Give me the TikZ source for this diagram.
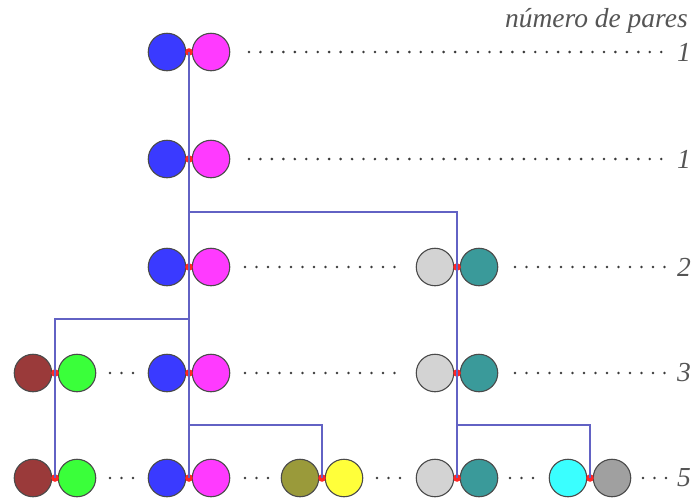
\documentclass[tikz,border=0pt]{standalone}
\usepackage{fontspec}
\setmainfont{Liberation Serif}
\definecolor{cblue}{HTML}{3A3AFF}
\definecolor{cmag}{HTML}{FF3AFF}
\definecolor{cbrown}{HTML}{9A3A3A}
\definecolor{cgreen}{HTML}{3AFF3A}
\definecolor{colive}{HTML}{9A9A3A}
\definecolor{cyel}{HTML}{FFFF3A}
\definecolor{clgrey}{HTML}{D3D3D3}
\definecolor{cteal}{HTML}{3A9A9A}
\definecolor{ccyan}{HTML}{3AFFFF}
\definecolor{cgrey}{HTML}{A0A0A0}
\definecolor{linec}{HTML}{6262C4}
\definecolor{edgec}{HTML}{4A4A4A}
\definecolor{dotc}{HTML}{3A3A3A}
\definecolor{textc}{HTML}{555555}
\tikzset{
  ball/.style={circle, draw=edgec, line width=1.1pt, minimum size=37.5pt, inner sep=0pt},
  link/.style={draw=linec, line width=1.3pt},
  joint/.style={fill=red!85!white},
  lbl/.style={text=textc, font=\fontsize{27.5}{30}\selectfont\itshape, inner sep=0pt},
}
\newcommand{\pairat}[5]{% name, x, y, leftcolor, rightcolor
  \node[ball, fill=#4] (#1L) at (#2-22,#3) {};
  \node[ball, fill=#5] (#1R) at (#2+22,#3) {};
  \coordinate (#1) at (#2,#3);
}
\newcommand{\dotrow}[4]{% x0, n, y, step
  \foreach \i in {1,...,#2} \fill[dotc] ({#1+(\i-1)*#4},#3) circle (1.45);
}
\begin{document}
\begin{tikzpicture}[x=1pt,y=-1pt]
\useasboundingbox (0,0) rectangle (695,499);
% connectors
\coordinate (k1) at (189,212);
\coordinate (k2) at (189,319);
\coordinate (k3) at (189,425);
\coordinate (k4) at (457,425);
% pairs
\pairat{p1}{189}{52}{cblue}{cmag}
\pairat{p2}{189}{159}{cblue}{cmag}
\pairat{p3}{189}{267}{cblue}{cmag}
\pairat{q3}{457}{267}{clgrey}{cteal}
\pairat{b4}{55}{373}{cbrown}{cgreen}
\pairat{p4}{189}{373}{cblue}{cmag}
\pairat{q4}{457}{373}{clgrey}{cteal}
\pairat{b5}{55}{478}{cbrown}{cgreen}
\pairat{p5}{189}{478}{cblue}{cmag}
\pairat{o5}{322}{478}{colive}{cyel}
\pairat{q5}{457}{478}{clgrey}{cteal}
\pairat{c5}{590}{478}{ccyan}{cgrey}
% red joints
\foreach \j in {p1,p2,p3,q3,b4,p4,q4,b5,p5,o5,q5,c5}
  \fill[joint] (\j) circle (3.8);
% lines
\draw[link] (p1) -- (p5);
\draw[link] (k1) -| (q5);
\draw[link] (k2) -| (b5);
\draw[link] (k3) -| (o5);
\draw[link] (k4) -| (c5);
% dotted rows
\dotrow{249}{37}{52}{11.45}
\dotrow{249}{37}{159}{11.45}
\dotrow{245}{14}{267}{11.5}
\dotrow{515}{14}{267}{11.5}
\dotrow{110}{3}{373}{11.5}
\dotrow{245}{14}{373}{11.5}
\dotrow{515}{14}{373}{11.5}
\dotrow{110}{3}{478}{11.5}
\dotrow{245}{3}{478}{11.5}
\dotrow{377}{3}{478}{11.5}
\dotrow{510}{3}{478}{11.5}
\dotrow{643}{3}{478}{11.5}
% labels
\node[lbl, anchor=base east] (title) at (688,27) {número de pares};
\node[lbl] (n1) at (684,52) {1};
\node[lbl] (n2) at (684,159) {1};
\node[lbl] (n3) at (684,267) {2};
\node[lbl] (n4) at (684,373) {3};
\node[lbl] (n5) at (684,478) {5};
\end{tikzpicture}
\end{document}
